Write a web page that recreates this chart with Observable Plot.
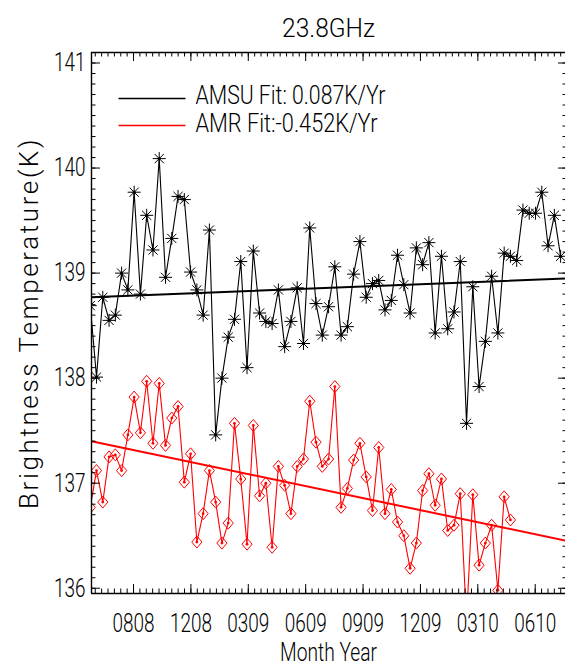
<!DOCTYPE html>
<html>
<head>
<meta charset="utf-8">
<script src="https://cdn.jsdelivr.net/npm/d3@7"></script>
<script src="https://cdn.jsdelivr.net/npm/@observablehq/plot@0.6"></script>
<style>
  html, body { margin: 0; padding: 0; background: #fff; }
  #chart { width: 565px; height: 669px; overflow: hidden; }
</style>
</head>
<body>
<div id="chart"></div>
<script>
// ---- data ----
const titleText = "23.8GHz";
const xAxisTitle = "Month Year";
const yAxisTitle = "Brightness Temperature(K)";
const firstIndex = -1; // sample index of the first value
const amsuValues = [
  138.69, 138.01, 138.77, 138.55, 138.60, 139.00, 138.84, 139.77, 138.80, 139.55,
  139.22, 140.09, 138.96, 139.33, 139.73, 139.70, 139.01, 138.84, 138.60, 139.41,
  137.46, 138.00, 138.39, 138.56, 139.11, 138.10, 139.21, 138.62, 138.54, 138.52,
  138.84, 138.30, 138.54, 138.86, 138.33, 139.43, 138.71, 138.41, 138.68, 139.06,
  138.41, 138.49, 138.99, 139.30, 138.77, 138.90, 138.93, 138.65, 138.74, 139.17,
  138.89, 138.62, 139.24, 139.08, 139.29, 138.43, 139.16, 138.47, 138.63, 139.11,
  137.57, 138.87, 137.92, 138.35, 138.97, 138.43, 139.19, 139.16, 139.12, 139.60,
  139.57, 139.57, 139.77, 139.26, 139.55, 139.16
];
const amrValues = [
  136.77, 137.12, 136.82, 137.25, 137.27, 137.12, 137.46, 137.82, 137.48, 137.97,
  137.38, 137.95, 137.36, 137.62, 137.73, 137.01, 137.28, 136.44, 136.71, 137.12,
  136.82, 136.43, 136.62, 137.57, 137.04, 136.42, 137.55, 136.88, 137.00, 136.39,
  137.16, 136.98, 136.71, 137.16, 137.23, 137.78, 137.39, 137.16, 137.23, 137.92,
  136.77, 136.95, 137.22, 137.38, 137.06, 136.74, 137.34, 136.71, 136.94, 136.63,
  136.50, 136.19, 136.43, 136.93, 137.09, 136.79, 137.04, 136.55, 136.60, 136.90,
  135.70, 136.89, 136.22, 136.43, 136.60, 135.98, 136.87, 136.65
];
const xDomain = [-0.8, 75.1];
const yDomain = [135.95, 141.1];
const amsuFitEnds = [138.77, 138.95];  // fit value at xDomain[0], xDomain[1]
const amrFitEnds = [137.40, 136.45];
const xTickLabels = ["0808", "1208", "0309", "0609", "0909", "1209", "0310", "0610"];
const xTickPos = [5.9, 15.05, 24.2, 33.35, 42.5, 51.65, 60.8, 69.95];
const xMinorPerMajor = 9;
const yTickValues = [136, 137, 138, 139, 140, 141];
const yMinorStep = 0.1;
const legendLabels = ["AMSU Fit: 0.087K/Yr", "AMR Fit:-0.452K/Yr"];
const seriesColors = ["#000000", "#ff0000"];

// ---- derived tables ----
const amsu = amsuValues.map((v, k) => ({i: firstIndex + k, v}));
const amr = amrValues.map((v, k) => ({i: firstIndex + k, v}));
const amsuFit = xDomain.map((x, k) => ({i: x, v: amsuFitEnds[k]}));
const amrFit = xDomain.map((x, k) => ({i: x, v: amrFitEnds[k]}));
const xTicks = xTickPos.map((p, k) => ({x: p, label: xTickLabels[k]}));
const xStep = (xTickPos[1] - xTickPos[0]) / xMinorPerMajor;
const xMinor = [];
for (let p = xTickPos[0]; p > xDomain[0]; p -= xStep) xMinor.push(p);
for (let p = xTickPos[0]; p < xDomain[1]; p += xStep) xMinor.push(p);
const yMinor = d3.range(Math.round(yDomain[0] / yMinorStep) * yMinorStep, yDomain[1] - 1e-6, yMinorStep)
  .filter(v => v > yDomain[0] && v < yDomain[1]);

// ---- symbols ----
const asterisk8 = {
  draw(ctx, size) {
    const r = Math.sqrt(size / Math.PI), d = r * Math.SQRT1_2;
    ctx.moveTo(-r, 0); ctx.lineTo(r, 0);
    ctx.moveTo(0, -r); ctx.lineTo(0, r);
    ctx.moveTo(-d, -d); ctx.lineTo(d, d);
    ctx.moveTo(-d, d); ctx.lineTo(d, -d);
  }
};
const openDiamond = {
  draw(ctx, size) {
    const r = Math.sqrt(size / Math.PI);
    ctx.moveTo(0, -r); ctx.lineTo(r * 0.85, 0); ctx.lineTo(0, r); ctx.lineTo(-r * 0.85, 0); ctx.closePath();
  }
};
const legendLine = { draw(ctx) { ctx.moveTo(-33.5, 0); ctx.lineTo(33.5, 0); } };

const family = "Roboto, 'Liberation Sans', sans-serif";
const font = {fontFamily: family, fontWeight: 300, fontSize: 26, fill: "#000"};
const legendFont = {...font, fontSize: 25};
const major = 9, minor = 4.5;

const chart = Plot.plot({
  width: 565, height: 669,
  marginTop: 52, marginBottom: 76, marginLeft: 91, marginRight: 0,
  style: {fontFamily: family, background: "#fff"},
  x: {domain: xDomain, range: [91, 567], axis: null},
  y: {domain: yDomain, axis: null},
  marks: [
    // data
    Plot.line(amsuFit, {x: "i", y: "v", stroke: seriesColors[0], strokeWidth: 2, clip: true}),
    Plot.line(amrFit, {x: "i", y: "v", stroke: seriesColors[1], strokeWidth: 2, clip: true}),
    Plot.line(amsu, {x: "i", y: "v", stroke: seriesColors[0], strokeWidth: 1.1, clip: true}),
    Plot.dot(amsu, {x: "i", y: "v", symbol: asterisk8, r: 6.5, stroke: seriesColors[0], strokeWidth: 1, clip: true}),
    Plot.dot(amsu, {x: "i", y: "v", r: 1.6, fill: seriesColors[0], clip: true}),
    Plot.line(amr, {x: "i", y: "v", stroke: seriesColors[1], strokeWidth: 1.1, clip: true}),
    Plot.dot(amr, {x: "i", y: "v", symbol: openDiamond, r: 6, stroke: seriesColors[1], fill: "none", strokeWidth: 1, clip: true}),
    Plot.dot(amr, {x: "i", y: "v", r: 1.4, fill: seriesColors[1], clip: true}),
    // frame
    Plot.ruleX([xDomain[0]], {stroke: "#000", strokeWidth: 1.4}),
    Plot.ruleY(yDomain, {stroke: "#000", strokeWidth: 1.4}),
    // x ticks bottom/top
    Plot.ruleX(xTickPos, {x: d => d, y1: yDomain[0], y2: yDomain[0], insetTop: -major, stroke: "#000"}),
    Plot.ruleX(xMinor, {x: d => d, y1: yDomain[0], y2: yDomain[0], insetTop: -minor, stroke: "#000"}),
    Plot.ruleX(xTickPos, {x: d => d, y1: yDomain[1], y2: yDomain[1], insetBottom: -major, stroke: "#000"}),
    Plot.ruleX(xMinor, {x: d => d, y1: yDomain[1], y2: yDomain[1], insetBottom: -minor, stroke: "#000"}),
    // y ticks left/right
    Plot.ruleY(yTickValues, {y: d => d, x1: xDomain[0], x2: xDomain[0], insetRight: -major, stroke: "#000"}),
    Plot.ruleY(yMinor, {y: d => d, x1: xDomain[0], x2: xDomain[0], insetRight: -minor, stroke: "#000"}),
    Plot.ruleY(yTickValues, {y: d => d, x1: xDomain[1], x2: xDomain[1], insetLeft: -major, stroke: "#000"}),
    Plot.ruleY(yMinor, {y: d => d, x1: xDomain[1], x2: xDomain[1], insetLeft: -minor, stroke: "#000"}),
    // tick labels
    Plot.text(xTicks, {x: "x", text: "label", frameAnchor: "bottom", lineAnchor: "top", dy: 20, ...font}),
    Plot.text(yTickValues, {y: d => d, text: d => String(d), frameAnchor: "left", lineAnchor: "middle", textAnchor: "end", dx: -6, ...font}),
    // titles
    Plot.text([titleText], {frameAnchor: "top", lineAnchor: "middle", dy: -24, ...font}),
    Plot.text([xAxisTitle], {frameAnchor: "bottom", lineAnchor: "middle", dy: 59, ...font}),
    Plot.text([yAxisTitle], {frameAnchor: "left", lineAnchor: "middle", textAnchor: "middle", dx: -62, rotate: -90, ...font}),
    // legend
    Plot.dot([0], {frameAnchor: "top-left", dx: 60.5, dy: 46, symbol: legendLine, stroke: seriesColors[0], strokeWidth: 1.5}),
    Plot.dot([0], {frameAnchor: "top-left", dx: 60.5, dy: 73, symbol: legendLine, stroke: seriesColors[1], strokeWidth: 1.5}),
    Plot.text([legendLabels[0]], {frameAnchor: "top-left", lineAnchor: "middle", dx: 104, dy: 43, textAnchor: "start", ...legendFont}),
    Plot.text([legendLabels[1]], {frameAnchor: "top-left", lineAnchor: "middle", dx: 104, dy: 71, textAnchor: "start", ...legendFont})
  ]
});
document.getElementById("chart").appendChild(chart);

// fit the text widths to the reference lettering
const textWidths = {
  "23.8GHz": 93, "Month Year": 97, "AMSU Fit: 0.087K/Yr": 190, "AMR Fit:-0.452K/Yr": 182
};
const spacedWidths = {"Brightness Temperature(K)": 372};
chart.querySelectorAll("text").forEach(t => {
  const s = t.textContent;
  if (spacedWidths[s]) {
    const natural = t.getComputedTextLength();
    t.style.letterSpacing = ((spacedWidths[s] - natural) / s.length) + "px";
    return;
  }
  const w = textWidths[s] ?? (/^\d+$/.test(s) ? s.length * 10.5 : null);
  if (w) { t.setAttribute("textLength", w); t.setAttribute("lengthAdjust", "spacingAndGlyphs"); }
});
</script>
</body>
</html>
